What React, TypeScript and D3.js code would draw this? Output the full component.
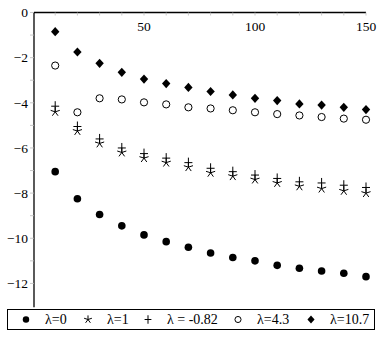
import { useMemo } from "react";
import * as d3 from "d3";

const W = 382;
const H = 338;

const xs = [10, 20, 30, 40, 50, 60, 70, 80, 90, 100, 110, 120, 130, 140, 150];
const lambda0 = [-7.05, -8.25, -8.95, -9.45, -9.85, -10.15, -10.4, -10.65, -10.85, -11.0, -11.2, -11.33, -11.45, -11.55, -11.7];
const lambda1 = [-4.4, -5.25, -5.8, -6.2, -6.45, -6.65, -6.85, -7.1, -7.25, -7.4, -7.55, -7.7, -7.8, -7.9, -8.0];
const lambdaNeg = [-4.15, -5.05, -5.6, -6.0, -6.25, -6.45, -6.65, -6.9, -7.05, -7.2, -7.35, -7.5, -7.55, -7.65, -7.75];
const lambda43 = [-2.35, -4.42, -3.8, -3.85, -3.98, -4.07, -4.2, -4.25, -4.33, -4.42, -4.5, -4.56, -4.63, -4.7, -4.75];
const lambda107 = [-0.85, -1.75, -2.25, -2.65, -2.95, -3.15, -3.32, -3.5, -3.65, -3.8, -3.9, -4.05, -4.1, -4.2, -4.3];

const xTickLabels = [50, 100, 150];
const yTickLabels = [0, -2, -4, -6, -8, -10, -12];
const legendLabels = ["λ=0", "λ=1", "λ = -0.82", "λ=4.3", "λ=10.7"];

const x = d3.scaleLinear().domain([0, 150]).range([33, 366]);
const y = d3.scaleLinear().domain([0, -13]).range([12.5, 306]);

const font = "'Liberation Serif', 'Times New Roman', serif";

// marker glyphs, drawn centred on 0,0; s scales them for the legend
const Marker = ({ kind, s = 1 }: { kind: string; s?: number }) => {
  if (kind === "dot") return <circle r={3.8 * s} fill="#000" />;
  if (kind === "circle") return <circle r={3.6 * s} fill="#fff" stroke="#000" strokeWidth={1} />;
  if (kind === "diamond")
    return <path d={`M0,${-4.6 * s}L${4.2 * s},0L0,${4.6 * s}L${-4.2 * s},0Z`} fill="#000" />;
  if (kind === "plus")
    return <path d={`M${-4 * s},0H${4 * s}M0,${-5 * s}V${5 * s}`} stroke="#000" strokeWidth={1} fill="none" />;
  // star: five-armed asterisk
  const arms = d3.range(5).map((i) => {
    const a = (-90 + i * 72) * (Math.PI / 180);
    return `M0,0L${(4.8 * s * Math.cos(a)).toFixed(2)},${(4.8 * s * Math.sin(a)).toFixed(2)}`;
  });
  return <path d={arms.join("")} stroke="#000" strokeWidth={1} fill="none" />;
};

const series = [
  { values: lambda0, kind: "dot" },
  { values: lambda1, kind: "star" },
  { values: lambdaNeg, kind: "plus" },
  { values: lambda43, kind: "circle" },
  { values: lambda107, kind: "diamond" },
];

export default function App() {
  const minorX = useMemo(() => d3.range(10, 151, 10), []);
  const minorY = useMemo(() => d3.range(0, -13, -1), []);
  const legendX = [26, 88, 148, 238, 311];
  const legendTextX = [45, 107, 167, 257, 330];

  return (
    <svg
      width={W}
      height={H}
      style={{ position: "absolute", left: 0, top: 0, background: "#fff" }}
      fontFamily={font}
    >
      {/* axes */}
      <line x1={x(0) + 1} x2={x(150)} y1={y(0)} y2={y(0)} stroke="#000" strokeWidth={1.3} />
      <line x1={x(0) + 1} x2={x(0) + 1} y1={y(0)} y2={y(-13.05)} stroke="#000" strokeWidth={1.3} />
      {minorX.map((t) => (
        <line key={t} x1={x(t)} x2={x(t)} y1={y(0)} y2={y(0) + 3} stroke="#bbb" strokeWidth={0.8} />
      ))}
      {minorY.map((t) => (
        <line key={t} x1={x(0) + 1} x2={x(0) - 3} y1={y(t)} y2={y(t)} stroke="#bbb" strokeWidth={0.8} />
      ))}
      {xTickLabels.map((t) => (
        <text key={t} x={x(t)} y={y(0) + 18} textAnchor="middle" fontSize={13.5}>
          {t}
        </text>
      ))}
      {yTickLabels.map((t) => (
        <text key={t} x={x(0) - 5} y={y(t)} dy="0.35em" textAnchor="end" fontSize={13.5}>
          {t === 0 ? "0" : `\u2212${Math.abs(t)}`}
        </text>
      ))}

      {/* points */}
      {series.map((s) =>
        s.values.map((v, i) => (
          <g key={s.kind + i} transform={`translate(${x(xs[i])},${y(v)})`}>
            <Marker kind={s.kind} />
          </g>
        ))
      )}

      {/* legend */}
      <rect x={7.5} y={309.5} width={367} height={20} fill="#fff" stroke="#000" strokeWidth={1} />
      {series.map((s, i) => (
        <g key={s.kind}>
          <g transform={`translate(${legendX[i]},319.5)`}>
            <Marker kind={s.kind} s={0.85} />
          </g>
          <text x={legendTextX[i]} y={319.5} dy="0.35em" fontSize={14}>
            {legendLabels[i]}
          </text>
        </g>
      ))}
    </svg>
  );
}
